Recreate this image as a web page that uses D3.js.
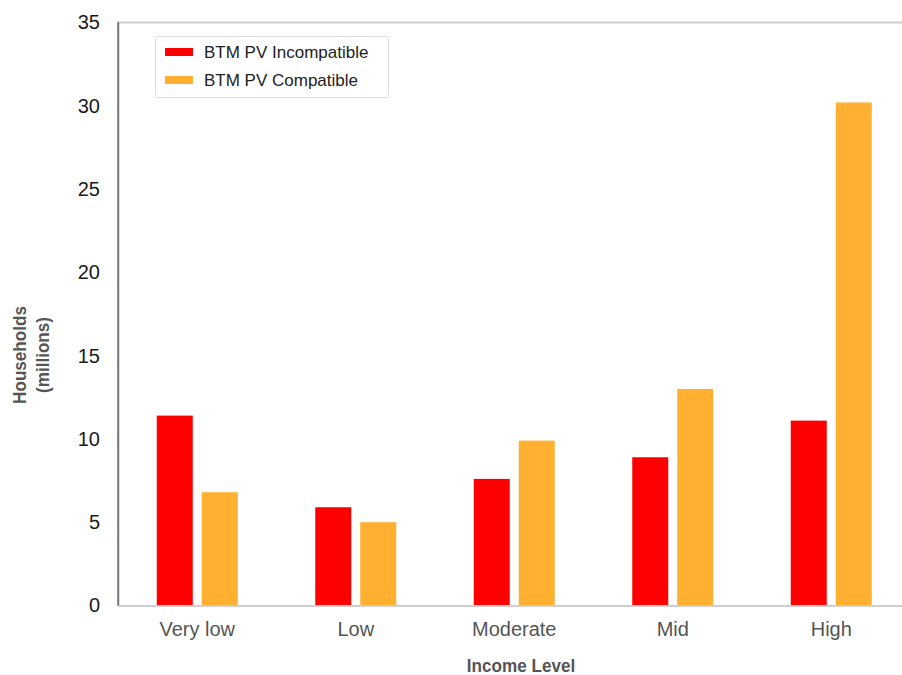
<!DOCTYPE html>
<html><head><meta charset="utf-8">
<script src="https://cdn.jsdelivr.net/npm/d3@7/dist/d3.min.js"></script>
<style>body{margin:0;background:#fff;}svg{display:block;font-family:"Liberation Sans",Arial,sans-serif;}</style>
</head><body><svg id="c" width="902" height="675"></svg>
<script>
const categories = ["Very low", "Low", "Moderate", "Mid", "High"];
const seriesNames = ["BTM PV Incompatible", "BTM PV Compatible"];
const incompatible = [11.4, 5.9, 7.6, 8.9, 11.1];
const compatible = [6.8, 5.0, 9.9, 13.0, 30.2];
const yTicks = [0, 5, 10, 15, 20, 25, 30, 35];
const colors = ["#ff0000", "#ffb030"];

const svg = d3.select("#c");
const L = 118, R = 910.5, T = 22.5, B = 605.5;

const x0 = d3.scaleBand().domain(categories).range([L, R]).paddingInner(0.489).paddingOuter(0.2445);
const x1 = d3.scaleBand().domain(seriesNames).range([0, x0.bandwidth()]).paddingInner(0.2).paddingOuter(0);
const y = d3.scaleLinear().domain([0, 35]).range([B, T]);

const seriesVals = [incompatible, compatible];

// top frame line
svg.append("line").attr("x1", L).attr("x2", 902).attr("y1", T).attr("y2", T).attr("stroke", "#cfcfcf").attr("stroke-width", 2);

// bars
categories.forEach((c, i) => {
  seriesNames.forEach((s, j) => {
    svg.append("rect")
      .attr("x", x0(c) + x1(s))
      .attr("y", y(seriesVals[j][i]))
      .attr("width", x1.bandwidth())
      .attr("height", y(0) - y(seriesVals[j][i]))
      .attr("fill", colors[j]);
  });
});

// y axis
const yAxis = svg.append("g").attr("transform", `translate(${L},0)`)
  .call(d3.axisLeft(y).tickValues(yTicks).tickSize(0).tickPadding(18));
yAxis.select(".domain").attr("stroke", "#777").attr("stroke-width", 1.5);
yAxis.selectAll("text").attr("font-size", 20).attr("fill", "#1a1a1a").attr("font-family", "Liberation Sans, Arial, sans-serif");

// x axis
const xAxis = svg.append("g").attr("transform", `translate(0,${B})`)
  .call(d3.axisBottom(x0).tickSize(0).tickPadding(16));
xAxis.select(".domain").attr("stroke", "#cfcfcf").attr("stroke-width", 2);
xAxis.selectAll("text").attr("font-size", 20).attr("fill", "#555").attr("font-family", "Liberation Sans, Arial, sans-serif");

// left axis line on top
svg.append("line").attr("x1", L).attr("x2", L).attr("y1", T - 1).attr("y2", B).attr("stroke", "#777").attr("stroke-width", 1.5);

// axis titles
svg.append("text")
  .attr("transform", "translate(521,672) scale(0.9,1)")
  .attr("text-anchor", "middle")
  .attr("font-size", 19).attr("font-weight", "bold").attr("fill", "#555")
  .text("Income Level");

const yl = svg.append("text").attr("transform", "translate(26,355) rotate(-90) scale(0.9,1)")
  .attr("text-anchor", "middle").attr("font-size", 19).attr("font-weight", "bold").attr("fill", "#555");
yl.append("tspan").attr("x", 0).attr("dy", 0).text("Households");
yl.append("tspan").attr("x", 0).attr("dy", 23).text("(millions)");

// legend
const lg = svg.append("g");
lg.append("rect").attr("x", 155.5).attr("y", 36.5).attr("width", 233).attr("height", 61)
  .attr("fill", "#fff").attr("stroke", "#ddd").attr("stroke-width", 1).attr("rx", 2);
seriesNames.forEach((s, j) => {
  const yy = 52 + j * 28;
  lg.append("rect").attr("x", 165).attr("y", yy - 4).attr("width", 28).attr("height", 8).attr("fill", colors[j]);
  lg.append("text").attr("x", 204).attr("y", yy + 6).attr("font-size", 17).attr("fill", "#222").text(s);
});
</script>
</body></html>
